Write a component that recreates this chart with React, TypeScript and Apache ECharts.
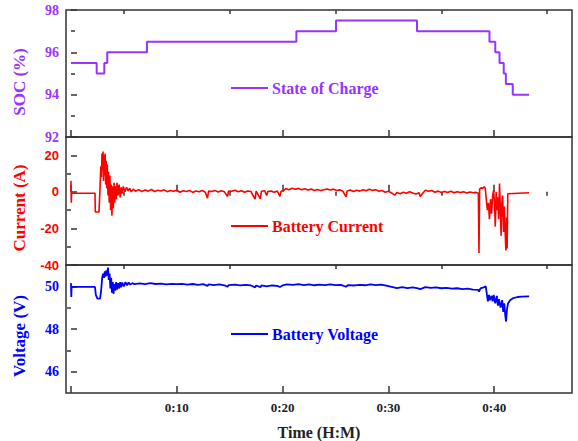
import React, { useEffect, useRef } from "react";
import * as echarts from "echarts";

const PURPLE = "#9933ff";
const RED = "#ff0000";
const BLUE = "#0000ff";
const SERIF = "'Liberation Serif', 'Times New Roman', serif";
const SANS = "'Liberation Sans', Arial, sans-serif";

// time axis (minutes)
const X_MIN = -0.47;
const X_MAX = 47.35;
const xMajorTicks = [0, 10, 20, 30, 40];
const xMinorTicks = [5, 15, 25, 35, 45];
const xTickLabels = [10, 20, 30, 40];

// y axes
const socTicks = { min: 92, max: 98, interval: 2 };
const curLabels = [-40, -20, 0, 20];
const curMinor = [-30, -10, 10];
const voltLabels = [46, 48, 50];
const voltMinor = [47, 49];

// State of Charge (step changes: [minute, %])
const socData: [number, number][] = [
  [0, 95.5], [2.43, 95], [3.15, 95.5], [3.43, 96], [7.18, 96.5], [21.3, 97],
  [25.05, 97.5], [32.7, 97], [39.55, 96.5], [40.1, 96], [40.5, 95.5],
  [40.9, 95], [41.1, 94.5], [41.75, 94], [43.3, 94],
];

// Battery current [minute, A]
const currentData: [number, number][] = [
  [0, 6], [0.03, -6], [0.06, -0.8], [2.27, -0.8], [2.3, -11], [2.65, -11],
  [2.75, 3], [2.82, 14], [2.88, 8], [2.93, 21], [2.98, 12], [3.03, 22],
  [3.08, 6], [3.13, 20], [3.18, 9], [3.23, 21], [3.28, 4], [3.33, 17],
  [3.38, 2], [3.43, 15], [3.5, -2], [3.55, 11], [3.62, -6], [3.68, 9],
  [3.75, -10], [3.8, 4], [3.87, -13], [3.93, 3], [4.0, -9], [4.07, 5],
  [4.13, -6], [4.2, 3], [4.28, -4], [4.35, 5], [4.45, -2], [4.55, 4],
  [4.65, -3], [4.75, 2.5], [4.85, -1], [4.95, 3], [5.1, 0], [5.25, 2.5],
  [5.4, 0.5], [5.55, 2], [5.7, 0], [5.9, 1.5], [6.1, 0.3], [6.4, 1.2],
  [6.7, 0.2], [7.0, 1.0], [7.3, 0.4], [7.6, 1.3], [7.9, 0.2], [8.2, 0.9],
  [8.5, 0.5], [8.8, 1.1], [9.1, 0.1], [9.4, 0.8], [9.7, 0.3], [10.0, 0.9],
  [10.3, -0.2], [10.6, 0.6], [10.9, 0.2], [11.2, 0.8], [11.5, -0.3],
  [11.8, 0.5], [12.1, 0.1], [12.4, 0.7], [12.7, -0.2], [12.9, -3.5],
  [13.0, 0.4], [13.3, 0.2], [13.6, 0.8], [13.9, -0.1], [14.2, 0.6],
  [14.5, 0.0], [14.8, -2.5], [14.9, 0.5], [15.2, 0.3], [15.5, 0.9],
  [15.8, 0.1], [16.1, 0.6], [16.4, -0.2], [16.7, 0.5], [17.0, 0.2],
  [17.4, -4], [17.5, 0.4], [17.9, -3.8], [18.0, 0.3], [18.3, 0.6],
  [18.5, -2], [18.6, 0.2], [18.9, 0.5], [19.2, -0.2], [19.5, 0.4],
  [19.75, -2.5], [19.85, 0.3], [20.1, 0.8], [20.3, 1.8], [20.6, 1.2],
  [20.9, 2.0], [21.2, 1.4], [21.5, 1.9], [21.8, 1.1], [22.1, 1.7],
  [22.4, 1.0], [22.7, 1.5], [23.0, 0.8], [23.3, 1.3], [23.6, 0.7],
  [23.9, 1.2], [24.2, 1.6], [24.5, 1.0], [24.8, 1.5], [25.1, 0.7],
  [25.4, 1.1], [25.7, 0.3], [26.0, -2.8], [26.1, 0.5], [26.4, 1.0],
  [26.7, 0.2], [27.0, 0.9], [27.3, 0.4], [27.6, 1.2], [27.9, 0.6],
  [28.2, 1.4], [28.5, 0.8], [28.8, 1.2], [29.1, 0.3], [29.4, 0.7],
  [29.7, -0.2], [30.0, 0.3], [30.3, -0.6], [30.6, -1.8], [30.8, -0.4],
  [31.1, -1.0], [31.4, -0.2], [31.7, -0.8], [32.0, 0.1], [32.3, -0.6],
  [32.6, -1.2], [32.9, -0.5], [33.0, -2.5], [33.2, -1.0], [33.5, 0.9],
  [33.8, 0.3], [34.1, 0.7], [34.4, -0.2], [34.7, 0.4], [35.0, -0.4],
  [35.3, 0.2], [35.6, -0.3], [35.9, 0.3], [36.2, -0.5], [36.5, 0.1],
  [36.8, -0.4], [37.1, 0.0], [37.4, -0.6], [37.7, -0.1], [38.0, -0.5],
  [38.3, -0.3], [38.5, -0.8], [38.56, -33.5], [38.62, 1.5], [38.75, 2.2],
  [38.9, 1.8], [39.05, 2.8], [39.15, 2.0], [39.25, -4], [39.35, -10],
  [39.45, -6], [39.55, -15], [39.65, -4], [39.75, -12], [39.85, -2],
  [39.95, 1], [40.03, -8], [40.1, -19], [40.18, 0], [40.27, -10],
  [40.35, -3], [40.42, -15], [40.5, 4.5], [40.57, -8], [40.65, -24],
  [40.72, -6], [40.8, -2], [40.88, -22], [40.95, -8], [41.02, -20],
  [41.1, -32], [41.17, -14], [41.22, -31], [41.28, -1], [43.3, -0.5],
];

// Battery voltage [minute, V]
const voltageData: [number, number][] = [
  [0, 50.15], [0.03, 49.5], [0.06, 49.97], [2.27, 49.97], [2.35, 49.6],
  [2.5, 49.42], [2.75, 49.42], [2.85, 49.8], [2.95, 50.4], [3.05, 50.6],
  [3.12, 50.4], [3.2, 50.7], [3.27, 50.45], [3.35, 50.75], [3.42, 50.5],
  [3.5, 50.88], [3.57, 50.3], [3.65, 50.6], [3.72, 49.9], [3.8, 50.4],
  [3.87, 49.7], [3.95, 50.2], [4.02, 49.65], [4.1, 50.1], [4.18, 49.8],
  [4.27, 50.2], [4.35, 49.85], [4.45, 50.15], [4.55, 49.9], [4.65, 50.2],
  [4.75, 49.95], [4.85, 50.18], [5.0, 50.0], [5.15, 50.2], [5.3, 50.05],
  [5.45, 50.18], [5.6, 50.08], [5.8, 50.15], [6.0, 50.1], [6.5, 50.14],
  [7.0, 50.1], [7.5, 50.15], [8.0, 50.11], [8.5, 50.13], [9.0, 50.09],
  [9.5, 50.12], [10.0, 50.1], [10.5, 50.12], [11.0, 50.08], [11.5, 50.11],
  [12.0, 50.07], [12.5, 50.1], [12.9, 50.02], [13.0, 50.09], [13.5, 50.06],
  [14.0, 50.09], [14.5, 50.05], [14.8, 49.98], [14.9, 50.06], [15.5, 50.08],
  [16.0, 50.04], [16.5, 50.07], [17.0, 50.04], [17.4, 49.95], [17.5, 50.04],
  [17.9, 49.96], [18.0, 50.04], [18.5, 50.0], [19.0, 50.04], [19.5, 50.02],
  [19.75, 49.97], [20.0, 50.04], [20.4, 50.09], [21.0, 50.07], [21.5, 50.1],
  [22.0, 50.06], [22.5, 50.09], [23.0, 50.05], [23.5, 50.08], [24.0, 50.06],
  [24.5, 50.09], [25.0, 50.06], [25.5, 50.07], [26.0, 49.98], [26.2, 50.06],
  [26.8, 50.04], [27.3, 50.07], [27.8, 50.05], [28.3, 50.09], [28.8, 50.06],
  [29.3, 50.08], [29.8, 50.03], [30.3, 49.98], [30.8, 49.92], [31.3, 49.96],
  [31.8, 49.92], [32.3, 49.95], [32.8, 49.9], [33.0, 49.87], [33.5, 49.96],
  [34.0, 49.93], [34.5, 49.95], [35.0, 49.91], [35.5, 49.93], [36.0, 49.89],
  [36.5, 49.91], [37.0, 49.87], [37.5, 49.89], [38.0, 49.85], [38.5, 49.83],
  [38.56, 49.75], [38.7, 49.9], [39.0, 49.95], [39.2, 50.0], [39.4, 49.3],
  [39.5, 49.6], [39.6, 49.35], [39.75, 49.55], [39.85, 49.3], [39.95, 49.6],
  [40.1, 49.2], [40.25, 49.55], [40.35, 49.1], [40.45, 49.4], [40.6, 49.0],
  [40.75, 49.35], [40.85, 48.8], [40.95, 49.2], [41.05, 48.6], [41.12, 48.35],
  [41.2, 48.9], [41.3, 49.2], [41.5, 49.35], [41.8, 49.45], [42.2, 49.5],
  [42.6, 49.52], [43.3, 49.53],
];

const AXIS_COLOR = "#333";

const grids = [
  { top: 10, height: 127 },
  { top: 137, height: 128 },
  { top: 265, height: 128 },
];

export default function App() {
  const ref = useRef<HTMLDivElement>(null);
  useEffect(() => {
    if (!ref.current) return;
    const chart = echarts.init(ref.current, undefined, { renderer: "svg" });

    const xMajor = grids.map((_, i) => ({
      type: "value",
      gridIndex: i,
      min: X_MIN,
      max: X_MAX,
      axisLine: { show: false },
      splitLine: { show: false },
      axisTick: {
        show: true,
        inside: true,
        length: 7,
        customValues: xMajorTicks,
        lineStyle: { color: AXIS_COLOR, width: 1.5 },
      },
      axisLabel:
        i === 2
          ? {
              show: true,
              customValues: xTickLabels,
              formatter: (v: number) => `0:${v}`,
              color: "#222",
              fontFamily: SERIF,
              fontWeight: "bold",
              fontSize: 13,
              margin: 8,
            }
          : { show: false },
    }));
    const xMinor = grids.map((_, i) => ({
      type: "value",
      gridIndex: i,
      min: X_MIN,
      max: X_MAX,
      axisLine: { show: false },
      splitLine: { show: false },
      axisLabel: { show: false },
      axisTick: {
        show: true,
        inside: true,
        length: 4,
        customValues: xMinorTicks,
        lineStyle: { color: AXIS_COLOR, width: 1.5 },
      },
    }));

    const yCommon = {
      type: "value",
      axisLine: { show: false },
      splitLine: { show: false },
    };
    const labelStyle = (color: string, family: string) => ({
      color,
      fontFamily: family,
      fontWeight: "bold",
      fontSize: 14,
      margin: 7,
    });

    const yAxes: any[] = [
      {
        ...yCommon,
        gridIndex: 0,
        min: socTicks.min,
        max: socTicks.max,
        interval: socTicks.interval,
        axisTick: { show: true, inside: true, length: 6, lineStyle: { color: AXIS_COLOR, width: 1.5 } },
        minorTick: { show: true, splitNumber: 2, length: 4, lineStyle: { color: AXIS_COLOR, width: 1.5 } },
        axisLabel: labelStyle(PURPLE, SERIF),
      },
      {
        ...yCommon,
        gridIndex: 1,
        min: -40,
        max: 30,
        axisTick: { show: true, inside: true, length: 6, customValues: curLabels, lineStyle: { color: AXIS_COLOR, width: 1.5 } },
        axisLabel: { ...labelStyle(RED, SANS), fontSize: 13, customValues: curLabels },
      },
      {
        ...yCommon,
        gridIndex: 2,
        min: 45,
        max: 51,
        axisTick: { show: true, inside: true, length: 6, customValues: voltLabels, lineStyle: { color: AXIS_COLOR, width: 1.5 } },
        axisLabel: { ...labelStyle(BLUE, SERIF), customValues: voltLabels },
      },
      {
        ...yCommon,
        gridIndex: 1,
        min: -40,
        max: 30,
        axisLabel: { show: false },
        axisTick: { show: true, inside: true, length: 4, customValues: curMinor, lineStyle: { color: AXIS_COLOR, width: 1.5 } },
      },
      {
        ...yCommon,
        gridIndex: 2,
        min: 45,
        max: 51,
        axisLabel: { show: false },
        axisTick: { show: true, inside: true, length: 4, customValues: voltMinor, lineStyle: { color: AXIS_COLOR, width: 1.5 } },
      },
    ];

    const legendItem = (y: number, color: string, text: string) => [
      {
        type: "line",
        shape: { x1: 231, y1: y, x2: 268, y2: y },
        style: { stroke: color, lineWidth: 2 },
        z: 100,
      },
      {
        type: "text",
        x: 272,
        y,
        style: {
          text,
          fill: color,
          font: `bold 16px ${SERIF}`,
          textAlign: "left",
          textVerticalAlign: "middle",
          align: "left",
          verticalAlign: "middle",
        },
        z: 100,
      },
    ];
    const yTitle = (y: number, color: string, text: string) => ({
      type: "text",
      x: 19,
      y,
      rotation: Math.PI / 2,
      style: {
        text,
        fill: color,
        font: `bold 17px ${SERIF}`,
        textAlign: "center",
        textVerticalAlign: "middle",
        align: "center",
        verticalAlign: "middle",
      },
    });

    chart.setOption({
      animation: false,
      backgroundColor: "#fff",
      grid: grids.map((g) => ({
        left: 66,
        right: 6,
        top: g.top,
        height: g.height,
        show: true,
        borderColor: AXIS_COLOR,
        borderWidth: 1.5,
        backgroundColor: "transparent",
        containLabel: false,
      })),
      xAxis: [...xMajor, ...xMinor],
      yAxis: yAxes,
      series: [
        {
          type: "line",
          name: "State of Charge",
          xAxisIndex: 0,
          yAxisIndex: 0,
          data: socData,
          step: "end",
          showSymbol: false,
          lineStyle: { color: PURPLE, width: 2 },
          itemStyle: { color: PURPLE },
        },
        {
          type: "line",
          name: "Battery Current",
          xAxisIndex: 1,
          yAxisIndex: 1,
          data: currentData,
          showSymbol: false,
          lineStyle: { color: RED, width: 1.6 },
          itemStyle: { color: RED },
        },
        {
          type: "line",
          name: "Battery Voltage",
          xAxisIndex: 2,
          yAxisIndex: 2,
          data: voltageData,
          showSymbol: false,
          lineStyle: { color: BLUE, width: 1.8 },
          itemStyle: { color: BLUE },
        },
      ],
      graphic: [
        ...legendItem(88, PURPLE, "State of Charge"),
        ...legendItem(226, RED, "Battery Current"),
        ...legendItem(334, BLUE, "Battery Voltage"),
        yTitle(82, PURPLE, "SOC (%)"),
        yTitle(208, RED, "Current (A)"),
        yTitle(336, BLUE, "Voltage (V)"),
        {
          type: "text",
          x: 319,
          y: 432,
          style: {
            text: "Time (H:M)",
            fill: "#222",
            font: `bold 16px ${SERIF}`,
            textAlign: "center",
            textVerticalAlign: "middle",
            align: "center",
            verticalAlign: "middle",
          },
        },
      ],
    });
    return () => chart.dispose();
  }, []);

  return <div ref={ref} style={{ width: 578, height: 441, position: "absolute", left: 0, top: 0 }} />;
}
